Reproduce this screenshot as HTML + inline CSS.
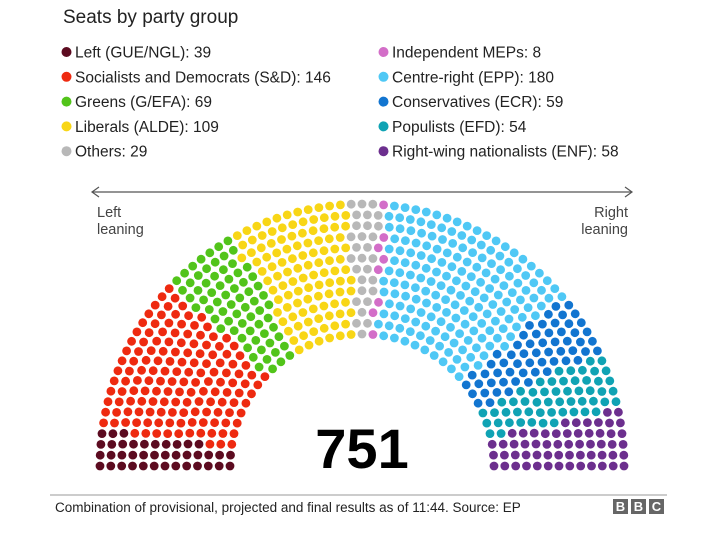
<!DOCTYPE html>
<html><head><meta charset="utf-8">
<style>
body{margin:0;background:#fff;}
svg{display:block;font-family:"Liberation Sans",Arial,sans-serif;}
</style></head>
<body>
<svg id="chart" width="702" height="542" viewBox="0 0 702 542" xmlns="http://www.w3.org/2000/svg">
<text x="63" y="23" font-size="19" fill="#222">Seats by party group</text>
<g id="legend" font-size="15.5" fill="#222"></g>
<g stroke="#555" stroke-width="1.2" fill="none">
<line x1="92" y1="192" x2="632" y2="192"/>
<polyline points="99,187 92,192 99,197"/>
<polyline points="625,187 632,192 625,197"/>
</g>
<text font-size="14.5" fill="#444"><tspan x="97" y="217">Left</tspan><tspan x="97" y="234">leaning</tspan></text>
<text font-size="14.5" fill="#444" text-anchor="end"><tspan x="628" y="217">Right</tspan><tspan x="628" y="234">leaning</tspan></text>
<g id="seats"></g>
<text x="362" y="468" font-size="56" font-weight="bold" text-anchor="middle" fill="#000">751</text>
<line x1="50" y1="495" x2="667" y2="495" stroke="#999" stroke-width="1"/>
<text x="55" y="512" font-size="13.5" fill="#222">Combination of provisional, projected and final results as of 11:44. Source: EP</text>
<g font-size="13" font-weight="bold" fill="#fff" text-anchor="middle">
<rect x="613" y="499" width="15" height="15" fill="#666"/><text x="620.5" y="511">B</text>
<rect x="631" y="499" width="15" height="15" fill="#666"/><text x="638.5" y="511">B</text>
<rect x="649" y="499" width="15" height="15" fill="#666"/><text x="656.5" y="511">C</text>
</g>
</svg>
<script>
const parties = ["Left (GUE/NGL)","Socialists and Democrats (S&D)","Greens (G/EFA)","Liberals (ALDE)","Others","Independent MEPs","Centre-right (EPP)","Conservatives (ECR)","Populists (EFD)","Right-wing nationalists (ENF)"];
const seatsCount = [39,146,69,109,29,8,180,59,54,58];
const colors = ["#5c0b20","#ee2a10","#52c41a","#f8d616","#b8b8b8","#d36ec8","#4fc8f5","#1275d0","#10a3b4","#6c2f8e"];
const legendOrder = [0,1,2,3,4,5,6,7,8,9];
const NS="http://www.w3.org/2000/svg";
const lg=document.getElementById('legend');
legendOrder.forEach((p,k)=>{
  const col=k<5?0:1, row=k%5;
  const x=col?379:62, y=52+row*24.8;
  const g=document.createElementNS(NS,'g');
  
  
  const c=document.createElementNS(NS,'circle');
  c.setAttribute('cx',x+4.5);c.setAttribute('cy',y);c.setAttribute('r',5);c.setAttribute('fill',colors[p]);
  const t=document.createElementNS(NS,'text');
  t.setAttribute('x',x+13);t.setAttribute('y',y+5.5);
  t.textContent=parties[p]+": "+seatsCount[p];
  g.appendChild(c);g.appendChild(t);lg.appendChild(g);
});
const total=seatsCount.reduce((a,b)=>a+b,0);
const cx=362, cy=466, r0=132, r1=262, rows=13;
const radii=[];for(let i=0;i<rows;i++)radii.push(r0+(r1-r0)*i/(rows-1));
const rs=radii.reduce((a,b)=>a+b,0);
let counts=radii.map(r=>Math.round(total*r/rs));
let diff=total-counts.reduce((a,b)=>a+b,0);
let k=rows-1;while(diff!==0){counts[k]+=diff>0?1:-1;diff+=diff>0?-1:1;k=(k-1+rows)%rows;}
const pts=[];
radii.forEach((r,i)=>{const n=counts[i];for(let j=0;j<n;j++){const a=Math.PI*(1-j/(n-1));pts.push({a,x:cx+r*Math.cos(a),y:cy-r*Math.sin(a)});}});
pts.sort((p,q)=>q.a-p.a);
const sg=document.getElementById('seats');
let idx=0;
seatsCount.forEach((n,p)=>{for(let s=0;s<n;s++){const pt=pts[idx++];if(!pt)return;
  const c=document.createElementNS(NS,'circle');
  
  
  c.setAttribute('cx',pt.x.toFixed(1));c.setAttribute('cy',pt.y.toFixed(1));c.setAttribute('r',4.4);c.setAttribute('fill',colors[p]);
  sg.appendChild(c);}});
</script>
</body></html>
